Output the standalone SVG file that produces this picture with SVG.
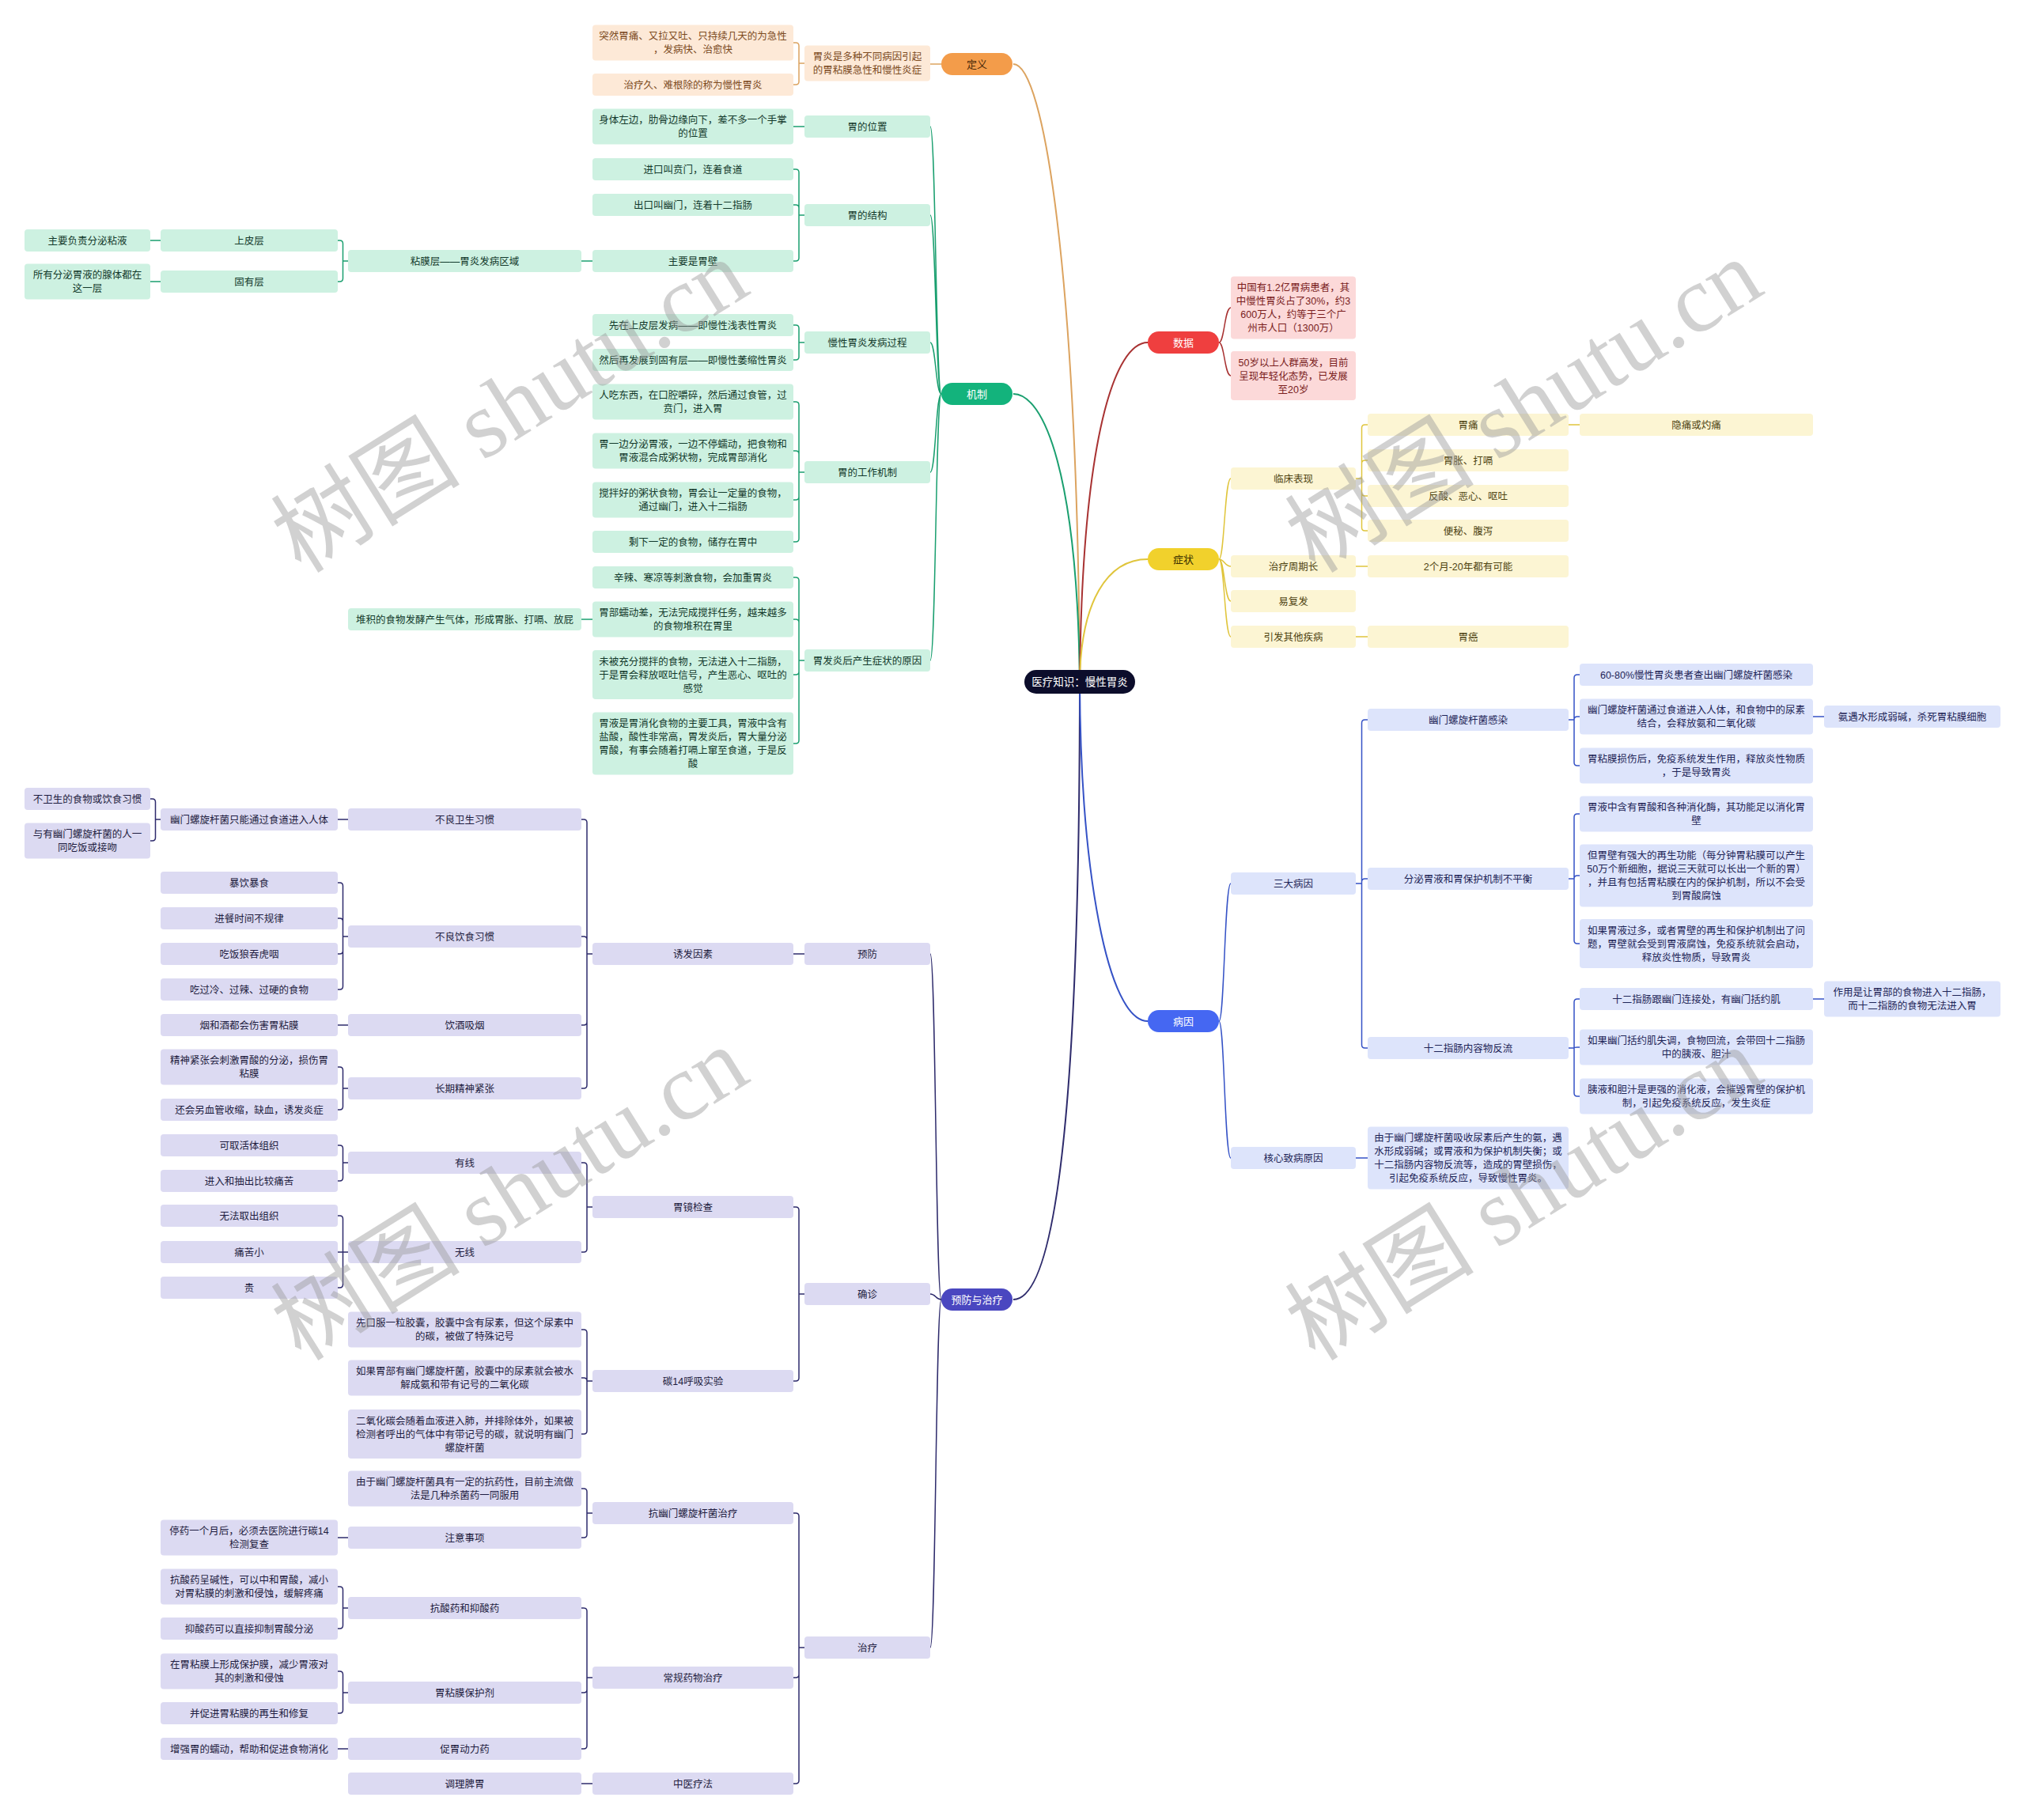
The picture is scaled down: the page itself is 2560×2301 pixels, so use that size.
<svg xmlns="http://www.w3.org/2000/svg" width="2560" height="2301" viewBox="0 0 2560 2301">
<style>
text{font-family:"Liberation Sans","Noto Sans CJK SC",sans-serif;font-size:12.5px;text-anchor:middle}
.m text{font-size:13px}
.or rect{fill:#fde9d7}.or text{fill:#7b4a1d}
.gr rect{fill:#cdf1e1}.gr text{fill:#12392b}
.pu rect{fill:#dcdaf2}.pu text{fill:#1e1c40}
.rd rect{fill:#fcd9d9}.rd text{fill:#7a1d1d}
.ye rect{fill:#fcf5d3}.ye text{fill:#4f4412}
.bl rect{fill:#dde4fb}.bl text{fill:#1d2457}
.c path{fill:none;stroke-width:1.5}
.c .mc{stroke-width:2}
.wm text{font-size:120px;fill:#9a9a9a;fill-opacity:0.45;text-anchor:middle;font-family:"Noto Sans CJK SC",sans-serif}
.wm tspan.s{font-family:"Liberation Serif",serif}
</style>
<rect x="0" y="0" width="2560" height="2301" fill="#ffffff"/>

<g id="connectors" class="c">
<g stroke="#dca35f">
<path class="mc" d="M1281 81 C1320 81 1362 350 1365 862"/>
<path d="M1190 81 H1176"/>
<path d="M1017 80 H1010 V58 Q1010 54 1006 54 H1003 M1010 80 V103 Q1010 107 1006 107 H1003"/>
</g>
<g stroke="#1a9f6f">
<path class="mc" d="M1281 498 C1320 498 1362 600 1365 862"/>
<path d="M1190 498 C1183 498 1183 160 1176 160 M1190 498 C1183 498 1183 272 1176 272 M1190 498 C1183 498 1183 433 1176 433 M1190 498 C1183 498 1183 597 1176 597 M1190 498 C1183 498 1183 835 1176 835"/>
<path d="M1017 160 H1003"/>
<path d="M1017 272 H1010 V218 Q1010 214 1006 214 H1003 M1010 272 V263 Q1010 259 1006 259 H1003 M1010 272 V326 Q1010 330 1006 330 H1003"/>
<path d="M749 330 H735"/>
<path d="M440 330 H433.5 V308 Q433.5 304 429.5 304 H427 M433.5 330 V352 Q433.5 356 429.5 356 H427"/>
<path d="M203 304 H190 M203 356 H190"/>
<path d="M1017 433 H1010 V415 Q1010 411 1006 411 H1003 M1010 433 V451 Q1010 455 1006 455 H1003"/>
<path d="M1017 597 H1010 V512 Q1010 508 1006 508 H1003 M1010 597 V574 Q1010 570 1006 570 H1003 M1010 597 V628 Q1010 632 1006 632 H1003 M1010 597 V681 Q1010 685 1006 685 H1003"/>
<path d="M1017 835 H1010 V734 Q1010 730 1006 730 H1003 M1010 835 V787 Q1010 783 1006 783 H1003 M1010 835 V849 Q1010 853 1006 853 H1003 M1010 835 V936 Q1010 940 1006 940 H1003"/>
<path d="M749 783 H735"/>
</g>
<g stroke="#2e2b6c">
<path class="mc" d="M1281 1643 C1340 1643 1365 1350 1365 862"/>
<path d="M1190 1643 C1183 1643 1183 1206 1176 1206 M1190 1643 C1183 1643 1183 1636 1176 1636 M1190 1643 C1183 1643 1183 2083 1176 2083"/>
<path d="M1017 1206 H1003"/>
<path d="M749 1206 H742 V1040 Q742 1036 738 1036 H735 M742 1206 V1188 Q742 1184 738 1184 H735 M742 1206 V1292 Q742 1296 738 1296 H735 M742 1206 V1372 Q742 1376 738 1376 H735"/>
<path d="M440 1036 H427"/>
<path d="M203 1036 H196.5 V1014 Q196.5 1010 192.5 1010 H190 M196.5 1036 V1059 Q196.5 1063 192.5 1063 H190"/>
<path d="M440 1184 H433.5 V1120 Q433.5 1116 429.5 1116 H427 M433.5 1184 V1165 Q433.5 1161 429.5 1161 H427 M433.5 1184 V1202 Q433.5 1206 429.5 1206 H427 M433.5 1184 V1247 Q433.5 1251 429.5 1251 H427"/>
<path d="M440 1296 H427"/>
<path d="M440 1376 H433.5 V1353 Q433.5 1349 429.5 1349 H427 M433.5 1376 V1399 Q433.5 1403 429.5 1403 H427"/>
<path d="M1017 1636 H1010 V1530 Q1010 1526 1006 1526 H1003 M1010 1636 V1742 Q1010 1746 1006 1746 H1003"/>
<path d="M749 1526 H742 V1474 Q742 1470 738 1470 H735 M742 1526 V1579 Q742 1583 738 1583 H735"/>
<path d="M440 1470 H433.5 V1452 Q433.5 1448 429.5 1448 H427 M433.5 1470 V1489 Q433.5 1493 429.5 1493 H427"/>
<path d="M440 1583 H427 M433.5 1583 V1541 Q433.5 1537 429.5 1537 H427 M433.5 1583 V1624 Q433.5 1628 429.5 1628 H427"/>
<path d="M749 1746 H742 V1685 Q742 1681 738 1681 H735 M742 1746 Q742 1742 738 1742 H735 M742 1746 V1809 Q742 1813 738 1813 H735"/>
<path d="M1017 2083 H1010 V1917 Q1010 1913 1006 1913 H1003 M1010 2083 V2117 Q1010 2121 1006 2121 H1003 M1010 2083 V2251 Q1010 2255 1006 2255 H1003"/>
<path d="M749 1913 H742 V1886 Q742 1882 738 1882 H735 M742 1913 V1940 Q742 1944 738 1944 H735"/>
<path d="M440 1944 H427"/>
<path d="M749 2121 H742 V2037 Q742 2033 738 2033 H735 M742 2121 V2136 Q742 2140 738 2140 H735 M742 2121 V2207 Q742 2211 738 2211 H735"/>
<path d="M440 2033 H433.5 V2010 Q433.5 2006 429.5 2006 H427 M433.5 2033 V2055 Q433.5 2059 429.5 2059 H427"/>
<path d="M440 2140 H433.5 V2117 Q433.5 2113 429.5 2113 H427 M433.5 2140 V2162 Q433.5 2166 429.5 2166 H427"/>
<path d="M440 2211 H427"/>
<path d="M749 2255 H735"/>
</g>
<g stroke="#a83232">
<path class="mc" d="M1451 433 C1410 433 1368 550 1365 862"/>
<path d="M1541 433 C1548 433 1548 389 1556 389 M1541 433 C1548 433 1548 475 1556 475"/>
</g>
<g stroke="#e0c53c">
<path class="mc" d="M1451 707 C1400 707 1366 760 1365 862"/>
<path d="M1541 707 C1548 707 1548 605 1556 605 M1541 707 C1548 707 1548 716 1556 716 M1541 707 C1548 707 1548 760 1556 760 M1541 707 C1548 707 1548 805 1556 805"/>
<path d="M1714 605 H1721.5 V541 Q1721.5 537 1725.5 537 H1729 M1721.5 605 V586 Q1721.5 582 1725.5 582 H1729 M1721.5 605 V623 Q1721.5 627 1725.5 627 H1729 M1721.5 605 V667 Q1721.5 671 1725.5 671 H1729"/>
<path d="M1983 537 H1997 M1714 716 H1729 M1714 805 H1729"/>
</g>
<g stroke="#3552c6">
<path class="mc" d="M1451 1291 C1400 1291 1366 1100 1365 862"/>
<path d="M1541 1291 C1548 1291 1548 1117 1556 1117 M1541 1291 C1548 1291 1548 1464 1556 1464"/>
<path d="M1714 1117 H1721.5 V914 Q1721.5 910 1725.5 910 H1729 M1721.5 1117 V1115 Q1721.5 1111 1725.5 1111 H1729 M1721.5 1117 V1321 Q1721.5 1325 1725.5 1325 H1729"/>
<path d="M1983 910 H1990 V857 Q1990 853 1994 853 H1997 M1990 910 Q1990 906 1994 906 H1997 M1990 910 V964 Q1990 968 1994 968 H1997"/>
<path d="M2292 906 H2306"/>
<path d="M1983 1111 H1990 V1033 Q1990 1029 1994 1029 H1997 M1990 1111 Q1990 1107 1994 1107 H1997 M1990 1111 V1189 Q1990 1193 1994 1193 H1997"/>
<path d="M1983 1325 H1990 V1267 Q1990 1263 1994 1263 H1997 M1990 1325 Q1990 1324 1994 1324 H1997 M1990 1325 V1382 Q1990 1386 1994 1386 H1997"/>
<path d="M2292 1263 H2306 M1714 1464 H1729"/>
</g>
</g>

<g id="root"><rect x="1295" y="847" width="140" height="30" rx="15" fill="#0c0d2b"/><text x="1365" y="867" fill="#ffffff" style="font-size:13.5px">医疗知识：慢性胃炎</text></g>

<g class="m">
<g id="n-dingyi"><rect x="1190" y="67" width="90" height="28" rx="14" fill="#f39c4a"/><text x="1235" y="85.5" fill="#4a2a0a">定义</text></g>
<g id="n-jizhi"><rect x="1190" y="484" width="90" height="28" rx="14" fill="#13b37c"/><text x="1235" y="502.5" fill="#ffffff">机制</text></g>
<g id="n-yufang-zhiliao"><rect x="1190" y="1629" width="90" height="28" rx="14" fill="#4a47c0"/><text x="1235" y="1647.5" fill="#ffffff">预防与治疗</text></g>
<g id="n-shuju"><rect x="1451" y="419" width="90" height="28" rx="14" fill="#ef3f3f"/><text x="1496" y="437.5" fill="#ffffff">数据</text></g>
<g id="n-zhengzhuang"><rect x="1451" y="693" width="90" height="28" rx="14" fill="#f1d12c"/><text x="1496" y="711.5" fill="#3a3000">症状</text></g>
<g id="n-bingyin"><rect x="1451" y="1277" width="90" height="28" rx="14" fill="#4567f2"/><text x="1496" y="1295.5" fill="#ffffff">病因</text></g>
</g>

<g class="or">
<g id="d1"><rect x="1017" y="57.5" width="159" height="45" rx="4"/><text><tspan x="1096.5" y="76">胃炎是多种不同病因引起</tspan><tspan x="1096.5" y="93">的胃粘膜急性和慢性炎症</tspan></text></g>
<g id="d1a"><rect x="749" y="31.5" width="254" height="45" rx="4"/><text><tspan x="876" y="50">突然胃痛、又拉又吐、只持续几天的为急性</tspan><tspan x="876" y="67">，发病快、治愈快</tspan></text></g>
<g id="d1b"><rect x="749" y="93" width="254" height="28" rx="4"/><text x="876" y="111.5">治疗久、难根除的称为慢性胃炎</text></g>
</g>

<g class="gr">
<g id="j1"><rect x="1017" y="146" width="159" height="28" rx="4"/><text x="1096.5" y="164.5">胃的位置</text></g>
<g id="j1a"><rect x="749" y="137.5" width="254" height="45" rx="4"/><text><tspan x="876" y="156">身体左边，肋骨边缘向下，差不多一个手掌</tspan><tspan x="876" y="173">的位置</tspan></text></g>
<g id="j2"><rect x="1017" y="258" width="159" height="28" rx="4"/><text x="1096.5" y="276.5">胃的结构</text></g>
<g id="j2a"><rect x="749" y="200" width="254" height="28" rx="4"/><text x="876" y="218.5">进口叫贲门，连着食道</text></g>
<g id="j2b"><rect x="749" y="245" width="254" height="28" rx="4"/><text x="876" y="263.5">出口叫幽门，连着十二指肠</text></g>
<g id="j2c"><rect x="749" y="316" width="254" height="28" rx="4"/><text x="876" y="334.5">主要是胃壁</text></g>
<g id="j2c1"><rect x="440" y="316" width="295" height="28" rx="4"/><text x="587.5" y="334.5">粘膜层——胃炎发病区域</text></g>
<g id="j2c1a"><rect x="203" y="290" width="224" height="28" rx="4"/><text x="315" y="308.5">上皮层</text></g>
<g id="j2c1a1"><rect x="31" y="290" width="159" height="28" rx="4"/><text x="110.5" y="308.5">主要负责分泌粘液</text></g>
<g id="j2c1b"><rect x="203" y="342" width="224" height="28" rx="4"/><text x="315" y="360.5">固有层</text></g>
<g id="j2c1b1"><rect x="31" y="333.5" width="159" height="45" rx="4"/><text><tspan x="110.5" y="352">所有分泌胃液的腺体都在</tspan><tspan x="110.5" y="369">这一层</tspan></text></g>
<g id="j3"><rect x="1017" y="419" width="159" height="28" rx="4"/><text x="1096.5" y="437.5">慢性胃炎发病过程</text></g>
<g id="j3a"><rect x="749" y="397" width="254" height="28" rx="4"/><text x="876" y="415.5">先在上皮层发病——即慢性浅表性胃炎</text></g>
<g id="j3b"><rect x="749" y="441" width="254" height="28" rx="4"/><text x="876" y="459.5">然后再发展到固有层——即慢性萎缩性胃炎</text></g>
<g id="j4"><rect x="1017" y="583" width="159" height="28" rx="4"/><text x="1096.5" y="601.5">胃的工作机制</text></g>
<g id="j4a"><rect x="749" y="485.5" width="254" height="45" rx="4"/><text><tspan x="876" y="504">人吃东西，在口腔嚼碎，然后通过食管，过</tspan><tspan x="876" y="521">贲门，进入胃</tspan></text></g>
<g id="j4b"><rect x="749" y="547.5" width="254" height="45" rx="4"/><text><tspan x="876" y="566">胃一边分泌胃液，一边不停蠕动，把食物和</tspan><tspan x="876" y="583">胃液混合成粥状物，完成胃部消化</tspan></text></g>
<g id="j4c"><rect x="749" y="609.5" width="254" height="45" rx="4"/><text><tspan x="876" y="628">搅拌好的粥状食物，胃会让一定量的食物，</tspan><tspan x="876" y="645">通过幽门，进入十二指肠</tspan></text></g>
<g id="j4d"><rect x="749" y="671" width="254" height="28" rx="4"/><text x="876" y="689.5">剩下一定的食物，储存在胃中</text></g>
<g id="j5"><rect x="1017" y="821" width="159" height="28" rx="4"/><text x="1096.5" y="839.5">胃发炎后产生症状的原因</text></g>
<g id="j5a"><rect x="749" y="716" width="254" height="28" rx="4"/><text x="876" y="734.5">辛辣、寒凉等刺激食物，会加重胃炎</text></g>
<g id="j5b"><rect x="749" y="760.5" width="254" height="45" rx="4"/><text><tspan x="876" y="779">胃部蠕动差，无法完成搅拌任务，越来越多</tspan><tspan x="876" y="796">的食物堆积在胃里</tspan></text></g>
<g id="j5b1"><rect x="440" y="769" width="295" height="28" rx="4"/><text x="587.5" y="787.5">堆积的食物发酵产生气体，形成胃胀、打嗝、放屁</text></g>
<g id="j5c"><rect x="749" y="822" width="254" height="62" rx="4"/><text><tspan x="876" y="840.5">未被充分搅拌的食物，无法进入十二指肠，</tspan><tspan x="876" y="857.5">于是胃会释放呕吐信号，产生恶心、呕吐的</tspan><tspan x="876" y="874.5">感觉</tspan></text></g>
<g id="j5d"><rect x="749" y="900.5" width="254" height="79" rx="4"/><text><tspan x="876" y="919">胃液是胃消化食物的主要工具，胃液中含有</tspan><tspan x="876" y="936">盐酸，酸性非常高，胃发炎后，胃大量分泌</tspan><tspan x="876" y="953">胃酸，有事会随着打嗝上窜至食道，于是反</tspan><tspan x="876" y="970">酸</tspan></text></g>
</g>

<g class="pu">
<g id="p1"><rect x="1017" y="1192" width="159" height="28" rx="4"/><text x="1096.5" y="1210.5">预防</text></g>
<g id="p1a"><rect x="749" y="1192" width="254" height="28" rx="4"/><text x="876" y="1210.5">诱发因素</text></g>
<g id="p1a1"><rect x="440" y="1022" width="295" height="28" rx="4"/><text x="587.5" y="1040.5">不良卫生习惯</text></g>
<g id="p1a1a"><rect x="203" y="1022" width="224" height="28" rx="4"/><text x="315" y="1040.5">幽门螺旋杆菌只能通过食道进入人体</text></g>
<g id="p1a1a1"><rect x="31" y="996" width="159" height="28" rx="4"/><text x="110.5" y="1014.5">不卫生的食物或饮食习惯</text></g>
<g id="p1a1a2"><rect x="31" y="1040.5" width="159" height="45" rx="4"/><text><tspan x="110.5" y="1059">与有幽门螺旋杆菌的人一</tspan><tspan x="110.5" y="1076">同吃饭或接吻</tspan></text></g>
<g id="p1a2"><rect x="440" y="1170" width="295" height="28" rx="4"/><text x="587.5" y="1188.5">不良饮食习惯</text></g>
<g id="p1a2a"><rect x="203" y="1102" width="224" height="28" rx="4"/><text x="315" y="1120.5">暴饮暴食</text></g>
<g id="p1a2b"><rect x="203" y="1147" width="224" height="28" rx="4"/><text x="315" y="1165.5">进餐时间不规律</text></g>
<g id="p1a2c"><rect x="203" y="1192" width="224" height="28" rx="4"/><text x="315" y="1210.5">吃饭狼吞虎咽</text></g>
<g id="p1a2d"><rect x="203" y="1237" width="224" height="28" rx="4"/><text x="315" y="1255.5">吃过冷、过辣、过硬的食物</text></g>
<g id="p1a3"><rect x="440" y="1282" width="295" height="28" rx="4"/><text x="587.5" y="1300.5">饮酒吸烟</text></g>
<g id="p1a3a"><rect x="203" y="1282" width="224" height="28" rx="4"/><text x="315" y="1300.5">烟和酒都会伤害胃粘膜</text></g>
<g id="p1a4"><rect x="440" y="1362" width="295" height="28" rx="4"/><text x="587.5" y="1380.5">长期精神紧张</text></g>
<g id="p1a4a"><rect x="203" y="1326.5" width="224" height="45" rx="4"/><text><tspan x="315" y="1345">精神紧张会刺激胃酸的分泌，损伤胃</tspan><tspan x="315" y="1362">粘膜</tspan></text></g>
<g id="p1a4b"><rect x="203" y="1389" width="224" height="28" rx="4"/><text x="315" y="1407.5">还会另血管收缩，缺血，诱发炎症</text></g>
<g id="p2"><rect x="1017" y="1622" width="159" height="28" rx="4"/><text x="1096.5" y="1640.5">确诊</text></g>
<g id="p2a"><rect x="749" y="1512" width="254" height="28" rx="4"/><text x="876" y="1530.5">胃镜检查</text></g>
<g id="p2a1"><rect x="440" y="1456" width="295" height="28" rx="4"/><text x="587.5" y="1474.5">有线</text></g>
<g id="p2a1a"><rect x="203" y="1434" width="224" height="28" rx="4"/><text x="315" y="1452.5">可取活体组织</text></g>
<g id="p2a1b"><rect x="203" y="1479" width="224" height="28" rx="4"/><text x="315" y="1497.5">进入和抽出比较痛苦</text></g>
<g id="p2a2"><rect x="440" y="1569" width="295" height="28" rx="4"/><text x="587.5" y="1587.5">无线</text></g>
<g id="p2a2a"><rect x="203" y="1523" width="224" height="28" rx="4"/><text x="315" y="1541.5">无法取出组织</text></g>
<g id="p2a2b"><rect x="203" y="1569" width="224" height="28" rx="4"/><text x="315" y="1587.5">痛苦小</text></g>
<g id="p2a2c"><rect x="203" y="1614" width="224" height="28" rx="4"/><text x="315" y="1632.5">贵</text></g>
<g id="p2b"><rect x="749" y="1732" width="254" height="28" rx="4"/><text x="876" y="1750.5">碳14呼吸实验</text></g>
<g id="p2b1"><rect x="440" y="1658.5" width="295" height="45" rx="4"/><text><tspan x="587.5" y="1677">先口服一粒胶囊，胶囊中含有尿素，但这个尿素中</tspan><tspan x="587.5" y="1694">的碳，被做了特殊记号</tspan></text></g>
<g id="p2b2"><rect x="440" y="1719.5" width="295" height="45" rx="4"/><text><tspan x="587.5" y="1738">如果胃部有幽门螺旋杆菌，胶囊中的尿素就会被水</tspan><tspan x="587.5" y="1755">解成氨和带有记号的二氧化碳</tspan></text></g>
<g id="p2b3"><rect x="440" y="1782" width="295" height="62" rx="4"/><text><tspan x="587.5" y="1800.5">二氧化碳会随着血液进入肺，并排除体外，如果被</tspan><tspan x="587.5" y="1817.5">检测者呼出的气体中有带记号的碳，就说明有幽门</tspan><tspan x="587.5" y="1834.5">螺旋杆菌</tspan></text></g>
<g id="p3"><rect x="1017" y="2069" width="159" height="28" rx="4"/><text x="1096.5" y="2087.5">治疗</text></g>
<g id="p3a"><rect x="749" y="1899" width="254" height="28" rx="4"/><text x="876" y="1917.5">抗幽门螺旋杆菌治疗</text></g>
<g id="p3a1"><rect x="440" y="1859.5" width="295" height="45" rx="4"/><text><tspan x="587.5" y="1878">由于幽门螺旋杆菌具有一定的抗药性，目前主流做</tspan><tspan x="587.5" y="1895">法是几种杀菌药一同服用</tspan></text></g>
<g id="p3a2"><rect x="440" y="1930" width="295" height="28" rx="4"/><text x="587.5" y="1948.5">注意事项</text></g>
<g id="p3a2a"><rect x="203" y="1921.5" width="224" height="45" rx="4"/><text><tspan x="315" y="1940">停药一个月后，必须去医院进行碳14</tspan><tspan x="315" y="1957">检测复查</tspan></text></g>
<g id="p3b"><rect x="749" y="2107" width="254" height="28" rx="4"/><text x="876" y="2125.5">常规药物治疗</text></g>
<g id="p3b1"><rect x="440" y="2019" width="295" height="28" rx="4"/><text x="587.5" y="2037.5">抗酸药和抑酸药</text></g>
<g id="p3b1a"><rect x="203" y="1983.5" width="224" height="45" rx="4"/><text><tspan x="315" y="2002">抗酸药呈碱性，可以中和胃酸，减小</tspan><tspan x="315" y="2019">对胃粘膜的刺激和侵蚀，缓解疼痛</tspan></text></g>
<g id="p3b1b"><rect x="203" y="2045" width="224" height="28" rx="4"/><text x="315" y="2063.5">抑酸药可以直接抑制胃酸分泌</text></g>
<g id="p3b2"><rect x="440" y="2126" width="295" height="28" rx="4"/><text x="587.5" y="2144.5">胃粘膜保护剂</text></g>
<g id="p3b2a"><rect x="203" y="2090.5" width="224" height="45" rx="4"/><text><tspan x="315" y="2109">在胃粘膜上形成保护膜，减少胃液对</tspan><tspan x="315" y="2126">其的刺激和侵蚀</tspan></text></g>
<g id="p3b2b"><rect x="203" y="2152" width="224" height="28" rx="4"/><text x="315" y="2170.5">并促进胃粘膜的再生和修复</text></g>
<g id="p3b3"><rect x="440" y="2197" width="295" height="28" rx="4"/><text x="587.5" y="2215.5">促胃动力药</text></g>
<g id="p3b3a"><rect x="203" y="2197" width="224" height="28" rx="4"/><text x="315" y="2215.5">增强胃的蠕动，帮助和促进食物消化</text></g>
<g id="p3c"><rect x="749" y="2241" width="254" height="28" rx="4"/><text x="876" y="2259.5">中医疗法</text></g>
<g id="p3c1"><rect x="440" y="2241" width="295" height="28" rx="4"/><text x="587.5" y="2259.5">调理脾胃</text></g>
</g>

<g class="rd">
<g id="s1"><rect x="1556" y="349.5" width="158" height="79" rx="4"/><text><tspan x="1635" y="368">中国有1.2亿胃病患者，其</tspan><tspan x="1635" y="385">中慢性胃炎占了30%，约3</tspan><tspan x="1635" y="402">600万人，约等于三个广</tspan><tspan x="1635" y="419">州市人口（1300万）</tspan></text></g>
<g id="s2"><rect x="1556" y="444" width="158" height="62" rx="4"/><text><tspan x="1635" y="462.5">50岁以上人群高发，目前</tspan><tspan x="1635" y="479.5">呈现年轻化态势，已发展</tspan><tspan x="1635" y="496.5">至20岁</tspan></text></g>
</g>

<g class="ye">
<g id="z1"><rect x="1556" y="591" width="158" height="28" rx="4"/><text x="1635" y="609.5">临床表现</text></g>
<g id="z1a"><rect x="1729" y="523" width="254" height="28" rx="4"/><text x="1856" y="541.5">胃痛</text></g>
<g id="z1a1"><rect x="1997" y="523" width="295" height="28" rx="4"/><text x="2144.5" y="541.5">隐痛或灼痛</text></g>
<g id="z1b"><rect x="1729" y="568" width="254" height="28" rx="4"/><text x="1856" y="586.5">胃胀、打嗝</text></g>
<g id="z1c"><rect x="1729" y="613" width="254" height="28" rx="4"/><text x="1856" y="631.5">反酸、恶心、呕吐</text></g>
<g id="z1d"><rect x="1729" y="657" width="254" height="28" rx="4"/><text x="1856" y="675.5">便秘、腹泻</text></g>
<g id="z2"><rect x="1556" y="702" width="158" height="28" rx="4"/><text x="1635" y="720.5">治疗周期长</text></g>
<g id="z2a"><rect x="1729" y="702" width="254" height="28" rx="4"/><text x="1856" y="720.5">2个月-20年都有可能</text></g>
<g id="z3"><rect x="1556" y="746" width="158" height="28" rx="4"/><text x="1635" y="764.5">易复发</text></g>
<g id="z4"><rect x="1556" y="791" width="158" height="28" rx="4"/><text x="1635" y="809.5">引发其他疾病</text></g>
<g id="z4a"><rect x="1729" y="791" width="254" height="28" rx="4"/><text x="1856" y="809.5">胃癌</text></g>
</g>

<g class="bl">
<g id="b1"><rect x="1556" y="1103" width="158" height="28" rx="4"/><text x="1635" y="1121.5">三大病因</text></g>
<g id="b1a"><rect x="1729" y="896" width="254" height="28" rx="4"/><text x="1856" y="914.5">幽门螺旋杆菌感染</text></g>
<g id="b1a1"><rect x="1997" y="839" width="295" height="28" rx="4"/><text x="2144.5" y="857.5">60-80%慢性胃炎患者查出幽门螺旋杆菌感染</text></g>
<g id="b1a2"><rect x="1997" y="883.5" width="295" height="45" rx="4"/><text><tspan x="2144.5" y="902">幽门螺旋杆菌通过食道进入人体，和食物中的尿素</tspan><tspan x="2144.5" y="919">结合，会释放氨和二氧化碳</tspan></text></g>
<g id="b1a2a"><rect x="2306" y="892" width="223" height="28" rx="4"/><text x="2417.5" y="910.5">氨遇水形成弱碱，杀死胃粘膜细胞</text></g>
<g id="b1a3"><rect x="1997" y="945.5" width="295" height="45" rx="4"/><text><tspan x="2144.5" y="964">胃粘膜损伤后，免疫系统发生作用，释放炎性物质</tspan><tspan x="2144.5" y="981">，于是导致胃炎</tspan></text></g>
<g id="b1b"><rect x="1729" y="1097" width="254" height="28" rx="4"/><text x="1856" y="1115.5">分泌胃液和胃保护机制不平衡</text></g>
<g id="b1b1"><rect x="1997" y="1006.5" width="295" height="45" rx="4"/><text><tspan x="2144.5" y="1025">胃液中含有胃酸和各种消化酶，其功能足以消化胃</tspan><tspan x="2144.5" y="1042">壁</tspan></text></g>
<g id="b1b2"><rect x="1997" y="1067.5" width="295" height="79" rx="4"/><text><tspan x="2144.5" y="1086">但胃壁有强大的再生功能（每分钟胃粘膜可以产生</tspan><tspan x="2144.5" y="1103">50万个新细胞，据说三天就可以长出一个新的胃）</tspan><tspan x="2144.5" y="1120">，并且有包括胃粘膜在内的保护机制，所以不会受</tspan><tspan x="2144.5" y="1137">到胃酸腐蚀</tspan></text></g>
<g id="b1b3"><rect x="1997" y="1162" width="295" height="62" rx="4"/><text><tspan x="2144.5" y="1180.5">如果胃液过多，或者胃壁的再生和保护机制出了问</tspan><tspan x="2144.5" y="1197.5">题，胃壁就会受到胃液腐蚀，免疫系统就会启动，</tspan><tspan x="2144.5" y="1214.5">释放炎性物质，导致胃炎</tspan></text></g>
<g id="b1c"><rect x="1729" y="1311" width="254" height="28" rx="4"/><text x="1856" y="1329.5">十二指肠内容物反流</text></g>
<g id="b1c1"><rect x="1997" y="1249" width="295" height="28" rx="4"/><text x="2144.5" y="1267.5">十二指肠跟幽门连接处，有幽门括约肌</text></g>
<g id="b1c1a"><rect x="2306" y="1240.5" width="223" height="45" rx="4"/><text><tspan x="2417.5" y="1259">作用是让胃部的食物进入十二指肠，</tspan><tspan x="2417.5" y="1276">而十二指肠的食物无法进入胃</tspan></text></g>
<g id="b1c2"><rect x="1997" y="1301.5" width="295" height="45" rx="4"/><text><tspan x="2144.5" y="1320">如果幽门括约肌失调，食物回流，会带回十二指肠</tspan><tspan x="2144.5" y="1337">中的胰液、胆汁</tspan></text></g>
<g id="b1c3"><rect x="1997" y="1363.5" width="295" height="45" rx="4"/><text><tspan x="2144.5" y="1382">胰液和胆汁是更强的消化液，会摧毁胃壁的保护机</tspan><tspan x="2144.5" y="1399">制，引起免疫系统反应，发生炎症</tspan></text></g>
<g id="b2"><rect x="1556" y="1450" width="158" height="28" rx="4"/><text x="1635" y="1468.5">核心致病原因</text></g>
<g id="b2a"><rect x="1729" y="1424.5" width="254" height="79" rx="4"/><text><tspan x="1856" y="1443">由于幽门螺旋杆菌吸收尿素后产生的氨，遇</tspan><tspan x="1856" y="1460">水形成弱碱；或胃液和为保护机制失衡；或</tspan><tspan x="1856" y="1477">十二指肠内容物反流等，造成的胃壁损伤，</tspan><tspan x="1856" y="1494">引起免疫系统反应，导致慢性胃炎。</tspan></text></g>
</g>

<g id="watermark" class="wm">
<text transform="translate(645,514) rotate(-32)" y="40">树图<tspan class="s"> shutu.cn</tspan></text>
<text transform="translate(1927,514) rotate(-32)" y="40">树图<tspan class="s"> shutu.cn</tspan></text>
<text transform="translate(645,1510) rotate(-32)" y="40">树图<tspan class="s"> shutu.cn</tspan></text>
<text transform="translate(1927,1510) rotate(-32)" y="40">树图<tspan class="s"> shutu.cn</tspan></text>
</g>
</svg>
